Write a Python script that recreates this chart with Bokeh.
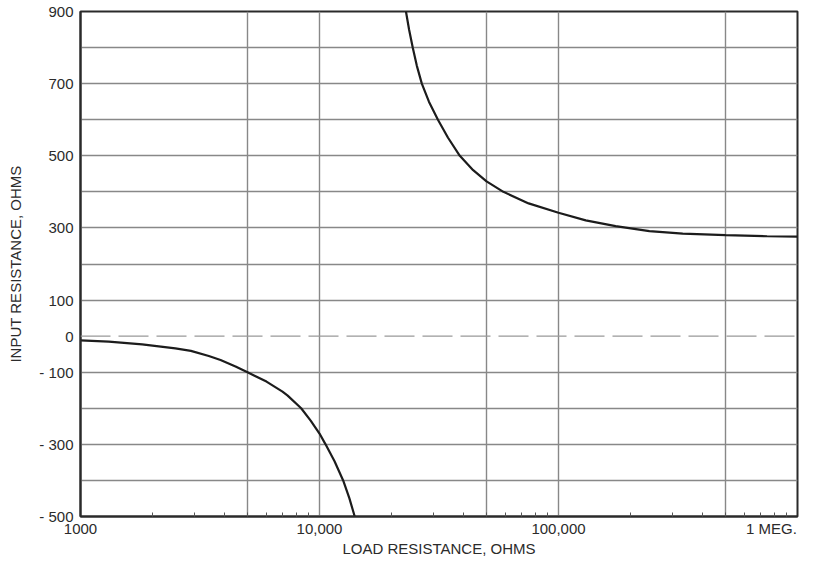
from bokeh.plotting import figure
from bokeh.models import FixedTicker, Span
from bokeh.embed import file_html
from bokeh.resources import INLINE

# ---- data ----
lower_x = [1000, 1313, 1811, 2494, 2897, 3442, 3854, 4453, 5000, 6000, 7000, 7360,
           8380, 9200, 10000, 10600, 11560, 12560, 13330, 14040]
lower_y = [-12, -15, -23, -34, -41, -55, -66, -84, -100, -126, -154, -165,
           -200, -235, -270, -300, -347, -400, -449, -500]

upper_x = [23000, 23700, 24550, 25530, 26800, 28700, 31300, 34500, 38650, 43950, 50000,
           58800, 75000, 100000, 130000, 173400, 240000, 331000, 500000, 746000, 1000000]
upper_y = [900, 850, 800, 750, 700, 650, 600, 550, 500, 460, 429,
           400, 368, 342, 321, 305, 291, 284, 280, 277, 276]

x_ticks = [1000, 10000, 100000, 1000000]
x_tick_labels = ["1000", "10,000", "100,000", "1 MEG.\u00a0\u00a0\u00a0\u00a0"]
x_grid = [5000, 10000, 50000, 100000, 500000]
x_minor = [2000, 3000, 4000, 5000, 6000, 7000, 8000, 9000,
           20000, 30000, 40000, 50000, 60000, 70000, 80000, 90000,
           200000, 300000, 400000, 500000, 600000, 700000, 800000, 900000]

y_ticks = [-500, -400, -300, -200, -100, 0, 100, 200, 300, 400, 500, 600, 700, 800, 900]
y_tick_labels = ["- 500", "", "- 300", "", "- 100", "0", "100", "", "300", "", "500", "", "700", "", "900"]

FONT = "Liberation Sans"
TXT = "#2b2b2b"
GRID = "#888888"
DARK = "#2a2a2a"

p = figure(width=813, height=561, x_axis_type="log",
           x_range=(1000, 1000000), y_range=(-500, 900),
           output_backend="svg", toolbar_location=None,
           min_border_left=80, min_border_right=16, min_border_top=11, min_border_bottom=45,
           background_fill_color="white", border_fill_color="white")

p.outline_line_color = DARK
p.outline_line_width = 2

# x axis
p.xaxis.ticker = FixedTicker(ticks=x_ticks, minor_ticks=x_minor)
p.xaxis.major_label_overrides = {t: l for t, l in zip(x_ticks, x_tick_labels)}
p.xaxis.major_tick_in = 0
p.xaxis.major_tick_out = 0
p.xaxis.minor_tick_in = 4
p.xaxis.minor_tick_out = 0
p.xaxis.minor_tick_line_color = "#555555"
p.xaxis.minor_tick_line_width = 1
p.xaxis.axis_line_color = DARK
p.xaxis.axis_line_width = 2
p.xaxis.major_label_standoff = 3
p.xaxis.major_label_text_font = FONT
p.xaxis.major_label_text_font_size = "15px"
p.xaxis.major_label_text_color = TXT
p.xaxis.axis_label = "LOAD RESISTANCE, OHMS"
p.xaxis.axis_label_text_font = FONT
p.xaxis.axis_label_text_font_size = "15px"
p.xaxis.axis_label_text_font_style = "normal"
p.xaxis.axis_label_text_color = TXT
p.xaxis.axis_label_standoff = 0

# y axis
p.yaxis.ticker = FixedTicker(ticks=y_ticks, minor_ticks=[])
p.yaxis.major_label_overrides = {t: l for t, l in zip(y_ticks, y_tick_labels)}
p.yaxis.major_tick_in = 0
p.yaxis.major_tick_out = 0
p.yaxis.minor_tick_in = 0
p.yaxis.minor_tick_out = 0
p.yaxis.axis_line_color = DARK
p.yaxis.axis_line_width = 2
p.yaxis.major_label_standoff = 7
p.yaxis.major_label_text_font = FONT
p.yaxis.major_label_text_font_size = "15px"
p.yaxis.major_label_text_color = TXT
p.yaxis.axis_label = "INPUT RESISTANCE, OHMS"
p.yaxis.axis_label_text_font = FONT
p.yaxis.axis_label_text_font_size = "15px"
p.yaxis.axis_label_text_font_style = "normal"
p.yaxis.axis_label_text_color = TXT
p.yaxis.axis_label_standoff = 12

# grids
p.xgrid.ticker = FixedTicker(ticks=x_grid)
p.xgrid.grid_line_color = GRID
p.xgrid.grid_line_width = 1.4
p.ygrid.ticker = FixedTicker(ticks=[t for t in y_ticks if t not in (0, -500, 900)])
p.ygrid.grid_line_color = GRID
p.ygrid.grid_line_width = 1.4

p.add_layout(Span(location=0, dimension="width", line_color="#999999",
                  line_width=1.4, line_dash="30 8"))

# curves
p.line(lower_x, lower_y, line_color="#1c1c1c", line_width=2.2)
p.line(upper_x, upper_y, line_color="#1c1c1c", line_width=2.2)

open("out.html", "w").write(file_html(p, INLINE))
